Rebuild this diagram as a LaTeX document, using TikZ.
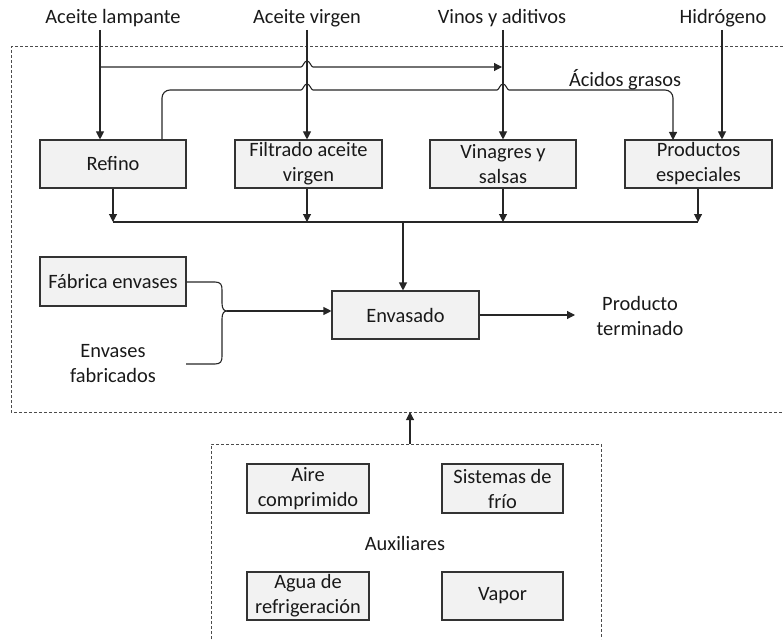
\documentclass[tikz,border=0pt]{standalone}
\usepackage{fontspec}
\setmainfont{Carlito}
\usetikzlibrary{arrows.meta}
\begin{document}
\begin{tikzpicture}[x=1pt,y=-1pt,
  every node/.style={font=\fontsize{20.4}{25}\selectfont, inner sep=0pt, align=center, text=black!90},
  proc/.style={draw=black!80, fill=black!5, line width=1.1pt, minimum height=48pt},
  ln/.style={draw=black!85, line width=1.1pt},
  arr/.style={ln, -{Triangle[length=8pt,width=8pt]}},
  dsh/.style={draw=black!70, line width=1pt, dash pattern=on 3pt off 2pt}]
\useasboundingbox (0,0) rectangle (783,639);
% frames
\draw[dsh] (783,47) -- (11,47) -- (11,412) -- (783,412);
\draw[dsh] (211,639) -- (211,444) -- (601,444) -- (601,639);
% top inputs
\node (lamp) at (113,18) {Aceite lampante};
\node (virg) at (307,18) {Aceite virgen};
\node (vinos) at (502,18) {Vinos y aditivos};
\node (hidr) at (723,18) {Hidrógeno};
% process boxes
\node[proc, minimum width=146pt] (refino) at (113,164) {Refino};
\node[proc, minimum width=147pt] (filt) at (308.5,164) {Filtrado aceite\\virgen};
\node[proc, minimum width=146pt] (vina) at (503,164) {Vinagres y\\salsas};
\node[proc, minimum width=147pt] (prod) at (698.5,164) {Productos\\especiales};
\node[proc, minimum width=146pt, minimum height=49pt] (fab) at (113,281.5) {Fábrica envases};
\node[proc, minimum width=147pt] (env) at (405.5,315) {Envasado};
\node (envfab) at (113,364) {Envases\\fabricados};
\node (pt) at (640,316) {Producto\\terminado};
\node (acidos) at (625,80) {Ácidos grasos};
% auxiliaries
\node[proc, minimum width=122pt, minimum height=49pt] (aire) at (308,488.5) {Aire\\comprimido};
\node[proc, minimum width=121pt, minimum height=49pt] (frio) at (502.5,488.5) {Sistemas de\\frío};
\node[proc, minimum width=122pt, minimum height=48pt] (agua) at (308,596) {Agua de\\refrigeración};
\node[proc, minimum width=121pt, minimum height=48pt] (vapor) at (502.5,596) {Vapor};
\node (aux) at (405,543) {Auxiliares};
\coordinate (auxtop) at (410,444);
\coordinate (outbot) at (410,412);
% input arrows
\draw[arr] (100,30) -- (refino.north -| 100,0);
\draw[arr] (307,30) -- (filt.north -| 307,0);
\draw[arr] (503,30) -- (vina.north -| 503,0);
\draw[arr] (722,30) -- (prod.north -| 722,0);
% lampante to vinos line with jump
\coordinate (jA) at (100,67);
\coordinate (jB) at (502,67);
\draw[arr] (jA) -- (301,67) .. controls (303,67) and (304,61) .. (307,61)
  .. controls (310,61) and (311,67) .. (313,67) -- (jB);
% acidos grasos line
\coordinate (ag) at (673,140);
\draw[arr] (refino.north -| 162,0) -- (162,98) arc[start angle=180,end angle=270,radius=8]
  -- (301,90) .. controls (303,90) and (304,84) .. (307,84)
  .. controls (310,84) and (311,90) .. (313,90)
  -- (497,90) .. controls (499,90) and (500,84) .. (503,84)
  .. controls (506,84) and (507,90) .. (509,90)
  -- (665,90) arc[start angle=270,end angle=360,radius=8] -- (ag);
% outputs to collector
\coordinate (c1) at (113,222);
\coordinate (c2) at (307,222);
\coordinate (c3) at (503,222);
\coordinate (c4) at (698,222);
\draw[arr] (refino.south -| c1) -- (c1);
\draw[arr] (filt.south -| c2) -- (c2);
\draw[arr] (vina.south -| c3) -- (c3);
\draw[arr] (prod.south -| c4) -- (c4);
\draw[ln] (c1) -- (c4);
\draw[arr] (403,222) -- (env.north -| 403,0);
% brace into envasado
\coordinate (bm) at (227,311);
\draw[ln] (fab.east |- 0,282) -- (215,282) .. controls (221,282) and (222,285) .. (222,290)
  -- (222,303) .. controls (222,309) and (224,311) .. (bm);
\draw[ln] (186,364) -- (215,364) .. controls (221,364) and (222,361) .. (222,356)
  -- (222,319) .. controls (222,313) and (224,311) .. (bm);
\draw[arr] (bm) -- (env.west |- bm);
% envasado to producto terminado
\draw[arr] (env.east) -- (575,315);
% auxiliaries to main
\draw[arr] (auxtop) -- (outbot);
\end{tikzpicture}
\end{document}
